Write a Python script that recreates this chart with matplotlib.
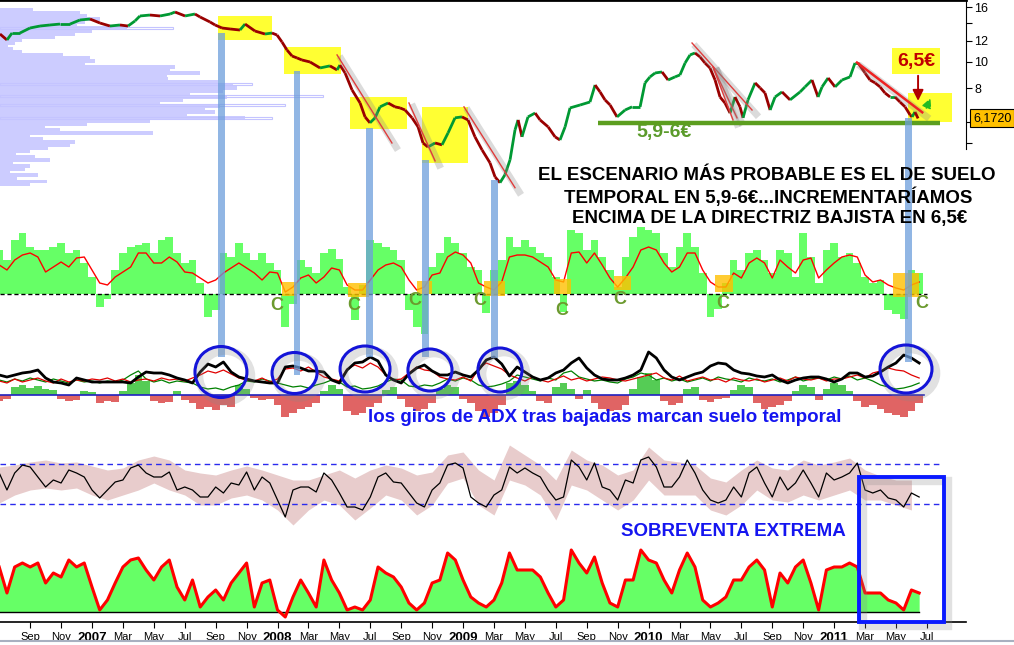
import matplotlib

matplotlib.use("Agg")

import matplotlib.pyplot as plt
import matplotlib.patheffects as pe
import numpy as np
from matplotlib.collections import LineCollection
from matplotlib.lines import Line2D
from matplotlib.patches import Ellipse, Rectangle
from matplotlib.ticker import FixedFormatter, FixedLocator, NullLocator

plt.rcParams["font.family"] = ["Liberation Sans", "DejaVu Sans"]

FIG_W, FIG_H = 1014, 645
PLOT_W = 966
# x axis is counted in months from January 2007
X_LEFT, X_RIGHT = -5.95, 56.53

# ---------------------------------------------------------------- price
PRICE_MONTHS = [
    -5.95, -5.50, -5.17, -4.66, -4.01, -3.36, -2.72, -2.07, -1.42, -0.78,
    -0.13, 0.52, 1.16, 1.81, 2.33, 2.78, 3.10, 3.75, 4.40, 5.05,
    5.37, 6.02, 6.66, 6.99, 7.63, 7.96, 8.41, 8.93, 9.57, 9.90,
    10.54, 11.19, 11.64, 11.97, 12.29, 12.61, 12.94, 13.26, 13.58, 14.10,
    14.75, 15.39, 15.85, 16.04, 16.37, 16.82, 17.34, 17.66, 17.98, 18.31,
    18.63, 19.15, 19.60, 19.92, 20.25, 20.70, 21.09, 21.41, 21.73, 22.19,
    22.64, 23.03, 23.48, 23.93, 24.32, 24.77, 25.23, 25.74, 26.07, 26.39,
    26.71, 27.04, 27.36, 27.56, 27.81, 28.20, 28.66, 28.98, 29.50, 29.95,
    30.27, 30.60, 30.92, 31.57, 32.21, 32.54, 32.86, 33.18, 33.51, 33.96,
    34.48, 34.93, 35.45, 35.77, 36.09, 36.42, 36.87, 37.26, 37.71, 38.03,
    38.36, 38.68, 39.00, 39.33, 39.65, 39.97, 40.30, 40.62, 40.94, 41.27,
    41.59, 41.91, 42.11, 42.43, 42.89, 43.21, 43.53, 43.86, 44.18, 44.63,
    45.15, 45.80, 46.12, 46.57, 46.96, 47.22, 47.61, 48.06, 48.51, 49.03,
    49.35, 49.55, 50.00, 50.32, 50.65, 50.97, 51.29, 51.62, 51.94, 52.26,
    52.59, 52.91, 53.04, 53.23, 53.43,
]
PRICE = [
    12.70, 12.07, 12.81, 12.81, 13.37, 13.60, 13.72, 13.83, 13.83, 14.32,
    14.44, 13.95, 13.60, 13.72, 13.60, 14.20, 14.82, 14.94, 14.82, 15.07,
    15.33, 14.82, 15.07, 14.69, 14.08, 13.72, 13.37, 13.26, 13.14, 13.83,
    13.03, 12.70, 12.81, 12.59, 11.86, 11.08, 10.52, 10.35, 10.17, 10.00,
    9.50, 9.67, 9.34, 9.74, 9.10, 7.87, 7.04, 6.25, 5.94, 6.20,
    6.81, 7.04, 6.81, 6.75, 6.63, 6.20, 5.74, 5.00, 4.83, 5.00,
    4.92, 5.45, 6.20, 6.25, 6.09, 5.27, 4.71, 4.22, 3.74, 3.56,
    3.81, 4.33, 5.59, 6.09, 5.27, 6.25, 6.46, 6.09, 5.74, 5.27,
    5.13, 5.74, 6.75, 6.92, 7.10, 8.21, 7.74, 7.23, 6.92, 6.25,
    6.63, 6.81, 6.81, 8.36, 8.80, 9.10, 9.18, 8.57, 8.80, 8.95,
    9.91, 10.62, 10.80, 10.44, 9.91, 9.50, 8.57, 7.41, 7.04, 6.46,
    7.41, 6.81, 6.20, 7.23, 8.36, 8.01, 7.67, 6.63, 7.41, 7.74,
    7.23, 7.74, 8.08, 8.57, 7.41, 8.08, 8.72, 8.08, 8.57, 8.80,
    9.91, 9.91, 9.10, 8.57, 8.36, 8.08, 7.67, 7.41, 7.41, 7.10,
    6.81, 6.36, 6.25, 6.52, 6.17,
]
LAST_PRICE = 6.172
SUPPORT = 5.95

# volume-by-price profile (left side of the price panel)
PROFILE_TOP, PROFILE_BOTTOM = 15.6, 3.52
PROFILE_VOL = [
    33, 80, 87, 100, 85, 77, 127, 92, 75, 55,
    22, 15, 8, 13, 22, 63, 90, 95, 85, 175,
    170, 200, 167, 168, 218, 233, 237, 223, 190, 227,
    183, 160, 220, 205, 215, 187, 245, 150, 87, 45,
    60, 153, 30, 43, 75, 70, 48, 30, 16, 35,
    50, 13, 30, 25, 10, 38, 17, 47, 30,
]
PROFILE_EXTRA_PRICE = [13.37, 8.28, 7.48, 6.92, 6.20]
PROFILE_EXTRA_VOL = [173, 252, 323, 285, 272]

# ----------------------------------------------------------- indicators
IND_MONTHS = np.arange(-6.0, 53.51, 0.5)

MOMENTUM = [
    44, 34, 54, 61, 47, 44, 44, 47, 51, 41,
    44, 31, 17, -13, -5, 24, 41, 47, 49, 51,
    41, 54, 57, 41, 31, 34, 11, -23, -16, 41,
    37, 51, 41, 34, 41, 31, 24, -33, -10, 34,
    27, 21, 41, 45, 35, 7, -26, 9, 54, 51,
    47, 44, 34, -16, -33, -40, 27, 41, 57, 51,
    41, 27, 24, -19, 24, 34, 57, 47, 54, 47,
    41, 37, 17, -18, 64, 61, 44, 54, 37, 24,
    7, 37, 57, 67, 64, 61, 41, 27, 47, 61,
    47, 21, -23, -15, 11, 34, 24, 41, 44, 34,
    21, 44, 41, 17, 61, 37, 11, 44, 51, 37,
    41, 31, 17, 11, 14, -16, -20, -25, 24, 21,
]
MOMENTUM_SIGNAL = [
    29, 24, 34, 39, 41, 37, 22, 27, 32, 27,
    36, 37, 24, 11, 9, 17, 22, 27, 41, 41,
    31, 31, 37, 32, 22, 21, 16, 11, 14, 21,
    26, 31, 26, 21, 14, 22, 21, 2, 7, 16,
    19, 11, 17, 26, 24, 9, 4, 4, 14, 24,
    29, 31, 27, 14, 4, 7, 19, 21, 37, 42,
    39, 31, 11, 7, 4, 12, 37, 39, 39, 37,
    32, 27, 14, 12, 41, 42, 31, 41, 29, 16,
    7, 16, 27, 44, 47, 44, 31, 22, 27, 41,
    41, 24, 12, 7, 7, 21, 16, 31, 36, 31,
    16, 34, 27, 21, 34, 36, 16, 24, 31, 37,
    39, 37, 19, 12, 14, 9, 6, 4, 9, 12,
]

ADX = [
    20, 18, 20, 22, 23, 25, 17, 13, 12, 10,
    17, 15, 13, 13, 13, 13, 13, 12, 18, 23,
    22, 22, 20, 17, 15, 12, 23, 31, 28, 33,
    23, 18, 16, 14, 13, 12, 12, 28, 29, 27,
    24, 24, 23, 15, 12, 25, 32, 33, 38, 34,
    20, 15, 12, 21, 27, 30, 24, 20, 20, 23,
    20, 18, 25, 35, 38, 31, 19, 28, 23, 18,
    15, 17, 22, 25, 32, 37, 27, 20, 16, 15,
    15, 17, 20, 25, 43, 37, 25, 18, 15, 18,
    21, 23, 29, 32, 31, 25, 22, 21, 19, 18,
    20, 15, 12, 15, 17, 18, 18, 16, 13, 16,
    22, 22, 18, 19, 23, 28, 32, 40, 37, 32,
]
DI_PLUS = [
    14, 12, 16, 13, 15, 17, 14, 12, 16, 13,
    15, 14, 16, 15, 17, 14, 16, 13, 15, 16,
    14, 17, 15, 16, 14, 17, 20, 24, 22, 25,
    21, 17, 15, 14, 17, 13, 16, 26, 27, 24,
    28, 23, 18, 16, 14, 26, 30, 27, 32, 28,
    20, 15, 16, 22, 28, 25, 24, 18, 16, 15,
    18, 14, 26, 32, 29, 26, 20, 17, 14, 18,
    15, 13, 16, 19, 15, 17, 14, 16, 18, 17,
    15, 14, 16, 18, 20, 22, 17, 15, 19, 14,
    16, 18, 15, 16, 13, 17, 15, 14, 16, 13,
    15, 17, 14, 18, 16, 15, 17, 14, 16, 16,
    18, 20, 17, 22, 24, 27, 25, 24, 20, 17,
]
DI_MINUS = [
    15, 13, 16, 14, 17, 15, 13, 16, 14, 12,
    15, 13, 14, 12, 14, 13, 15, 20, 24, 16,
    13, 15, 12, 14, 13, 12, 8, 6, 7, 5,
    8, 10, 14, 13, 16, 14, 12, 10, 8, 9,
    7, 10, 12, 15, 13, 8, 9, 6, 7, 9,
    13, 16, 15, 9, 8, 10, 9, 12, 16, 14,
    17, 15, 10, 8, 9, 11, 14, 20, 18, 16,
    14, 17, 15, 22, 24, 18, 16, 14, 15, 13,
    12, 16, 18, 22, 20, 15, 17, 14, 16, 13,
    15, 17, 14, 18, 16, 15, 13, 17, 15, 14,
    16, 13, 15, 18, 14, 16, 17, 15, 18, 16,
    19, 15, 17, 14, 10, 8, 6, 7, 9, 12,
]
ADX_HIST = [
    -6, -4, 8, 10, 7, 9, 6, 5, -4, -6,
    -5, 4, 3, -8, -6, -7, 4, 12, 20, 14,
    -6, -8, -7, 4, -5, -8, -14, -12, -15, -10,
    -12, 10, 6, -3, -5, -4, -10, -22, -18, -14,
    -12, -8, 4, 10, 6, -16, -20, -18, -12, -8,
    5, 8, -4, -12, -16, -14, -8, 6, 10, 8,
    -4, -8, -16, -22, -18, -10, 12, 14, 10, 4,
    -6, -8, 8, 12, 6, -4, 5, -8, -14, -16,
    -15, -10, 6, 18, 22, 15, -6, -10, -8, 6,
    8, -5, -7, -4, -3, 5, 10, 8, -8, -14,
    -12, -10, -6, 4, 10, 8, -5, 6, 12, 10,
    4, -6, -12, -10, -14, -18, -20, -22, -16, -8,
]

STOCH = [
    31, 14, 31, 39, 37, 27, 17, 24, 21, 34,
    31, 27, 14, 6, 14, 22, 24, 36, 39, 31,
    27, 27, 32, 14, 17, 14, 7, 7, 17, 11,
    21, 19, 32, 14, 27, 21, 4, -13, 14, 17,
    17, 12, 31, 24, 11, -3, -3, -6, 7, 27,
    31, 22, 21, 11, 1, -3, 14, 21, 39, 41,
    36, 7, 1, -3, 9, 14, 37, 31, 36, 31,
    27, 14, 4, 7, 44, 37, 24, 41, 17, 14,
    4, 24, 21, 44, 47, 37, 17, 17, 27, 44,
    31, 14, 4, 1, 4, 17, 7, 31, 37, 21,
    7, 27, 14, 21, 34, 21, 7, 31, 24, 27,
    31, 41, 14, 11, 14, 6, 4, -3, 11, 7,
]
STOCH_LEVELS = [0, 40]
BAND_MONTHS = np.arange(-6.0, 53.5, 1.0)
BAND_HI = [
    37, 39, 42, 44, 41, 42, 38, 34, 36, 44,
    48, 44, 34, 31, 29, 34, 38, 34, 29, 24,
    24, 29, 34, 26, 34, 39, 36, 29, 32, 49,
    52, 34, 24, 59, 49, 39, 24, 54, 44, 39,
    29, 34, 57, 44, 42, 39, 26, 22, 34, 44,
    36, 34, 44, 39, 42, 46, 34, 28, 24, 24,
]
BAND_LO = [
    1, 9, 14, 16, 14, 16, 9, 4, 9, 14,
    21, 14, 9, -1, -1, 6, 9, 4, -6, -21,
    -6, 4, -1, -16, -4, 9, 4, -11, -1, 21,
    26, -1, -11, 24, 19, 9, -16, 19, 14, 4,
    -6, 4, 24, 9, 9, 9, -6, -11, -1, 14,
    4, 2, 9, 4, 9, 14, 4, 4, -1, -6,
]

OSC = [
    45, 19, 45, 49, 45, 49, 29, 39, 35, 52,
    45, 49, 25, 2, 12, 29, 45, 52, 54, 42,
    32, 45, 52, 25, 12, 32, 5, 15, 22, 12,
    29, 39, 49, 5, 29, 32, 2, -5, 15, 32,
    19, 5, 52, 32, 19, 2, 5, 2, 12, 45,
    39, 35, 25, 9, 2, 9, 29, 32, 59, 52,
    32, 15, 9, 5, 12, 29, 59, 42, 42, 42,
    35, 19, 5, 12, 62, 49, 39, 55, 29, 9,
    5, 32, 32, 62, 52, 49, 32, 19, 42, 59,
    45, 12, 5, 9, 15, 32, 32, 45, 52, 42,
    5, 39, 29, 45, 52, 29, 2, 42, 45, 45,
    49, 45, 19, 19, 19, 12, 9, 2, 22, 19,
]

# ---------------------------------------------------------- annotations
# consolidation zones on price: (month start, month end, price low, price high)
ZONES = [(8.15, 11.64, 12.07, 14.82), (12.42, 16.11, 9.02, 11.36),
         (16.69, 20.38, 5.64, 7.41), (21.35, 24.32, 4.22, 6.81),
         (52.80, 55.60, 5.99, 7.67)]
# downtrend lines: (m0, p0, m1, p1)
TRENDS = [(15.85, 10.62, 19.40, 5.00), (20.50, 7.04, 22.19, 4.29),
          (24.06, 6.81, 27.36, 3.41), (38.81, 11.76, 42.69, 6.63),
          (40.17, 9.58, 41.72, 6.20), (40.17, 9.58, 41.46, 6.09)]
MAIN_TREND = (49.48, 9.95, 53.70, 6.50)
# momentum "C" marks and the orange boxes around them
C_MONTHS = [11.97, 16.95, 20.89, 25.10, 30.40, 34.15, 40.82, 53.69]
C_LEVEL = [-11, -11, -6, -6, -16, -5, -9, -9]
C_BOXES = [(12.29, 13.26, -2, 12), (16.56, 17.92, -3, 11), (21.02, 21.99, 0, 13),
           (25.36, 26.71, -2, 13), (29.88, 30.98, 0, 15), (33.76, 34.86, 4, 18),
           (40.30, 41.46, 2, 19), (51.81, 53.49, -3, 21)]
# bottoms marked with blue bars (month, top px, bottom px) and ADX circles
BOTTOM_MONTHS = [8.38, 13.26, 17.92, 21.60, 26.04, 52.81]
BAR_TOP = [33, 71, 128, 160, 180, 118]
BAR_BOTTOM = [357, 375, 357, 357, 358, 362]
CIRCLE_MONTHS = [8.34, 13.10, 17.66, 21.86, 26.39, 52.65]
CIRCLE_W = [3.36, 2.91, 3.23, 2.85, 2.85, 3.36]


def rect(top, bottom, width=PLOT_W):
    return [0, 1 - bottom / FIG_H, width / FIG_W, (bottom - top) / FIG_H]


def hide(ax):
    for s in ax.spines.values():
        s.set_visible(False)
    ax.xaxis.set_major_locator(NullLocator())
    ax.xaxis.set_minor_locator(NullLocator())
    ax.yaxis.set_major_locator(NullLocator())
    ax.yaxis.set_minor_locator(NullLocator())
    ax.patch.set_visible(False)


shadow = [pe.SimpleLineShadow(offset=(3, -3), shadow_color="#888888", alpha=0.3, linewidth=5), pe.Normal()]
stroke_shadow = [pe.Stroke(offset=(3, -3), linewidth=6, foreground="#888888", alpha=0.25), pe.Normal()]

fig = plt.figure(figsize=(FIG_W / 100, FIG_H / 100), dpi=100)

# --- volume profile
ylim_price = (3.07, 16.99)
ax_prof = fig.add_axes(rect(0, 200))
ax_prof.set_yscale("log")
ax_prof.set_ylim(*ylim_price)
ax_prof.set_xlim(0, PLOT_W)
prof_prices = np.geomspace(PROFILE_TOP, PROFILE_BOTTOM, len(PROFILE_VOL))
ax_prof.barh(prof_prices, PROFILE_VOL, height=prof_prices * 0.026, color="#ccccff", lw=0,
             antialiased=False)
ax_prof.barh(PROFILE_EXTRA_PRICE, PROFILE_EXTRA_VOL, height=np.array(PROFILE_EXTRA_PRICE) * 0.014,
             facecolor="none", edgecolor="#c4c4ff", lw=0.8)
hide(ax_prof)

# --- price panel
ax = fig.add_axes(rect(0, 200))
ax.patch.set_visible(False)
ax.set_yscale("log")
ax.set_xlim(X_LEFT, X_RIGHT)
ax.set_ylim(*ylim_price)
for m0, m1, lo, hi in ZONES:
    ax.add_patch(Rectangle((m0, lo), m1 - m0, hi - lo, color="#ffff33", lw=0, zorder=0.5))

pts = np.column_stack([PRICE_MONTHS, PRICE])
segs = np.stack([pts[:-1], pts[1:]], axis=1)
cols = ["#009933" if b >= a else "#990000" for a, b in zip(PRICE[:-1], PRICE[1:])]
ax.add_collection(LineCollection(segs, colors=cols, linewidths=2.0, zorder=3))

for m0, p0, m1, p1 in TRENDS:
    ax.plot([m0, m1], [p0, p1], color="#e03c3c", lw=1.0, zorder=4, path_effects=shadow)
m0, p0, m1, p1 = MAIN_TREND
ax.plot([m0, m1], [p0, p1], color="#ee2222", lw=1.8, zorder=4, path_effects=shadow)
ax.plot([32.73, 54.85], [SUPPORT, SUPPORT], color="#5c9e1f", lw=3.2, solid_capstyle="butt", zorder=4)
ax.text(37.0, 5.45, "5,9-6€", color="#5b9b2b", fontsize=14, fontweight="bold", ha="center", va="center")
ax.text(53.3, 10.08, "6,5€", color="#c00000", fontsize=14, fontweight="bold", ha="center", va="center",
        bbox=dict(boxstyle="square,pad=0.25", fc="#ffff33", ec="none"))
ax.annotate("", xy=(53.43, 7.0), xytext=(53.43, 9.1),
            arrowprops=dict(arrowstyle="-|>", color="#b00000", lw=1.4, mutation_scale=16))
ax.annotate("", xy=(54.3, 7.5), xytext=(53.9, 6.6),
            arrowprops=dict(arrowstyle="-|>", color="#22bb22", lw=1.2, ls="--", mutation_scale=14))

for s in ["left", "bottom"]:
    ax.spines[s].set_visible(False)
ax.spines["top"].set_linewidth(2)
ax.spines["right"].set_bounds(4.75, ylim_price[1])
ax.yaxis.tick_right()
ax.yaxis.set_major_locator(FixedLocator([5, 6, 8, 10, 12, 14, 16]))
ax.yaxis.set_major_formatter(FixedFormatter(["", "", "8", "10", "12", "", "16"]))
ax.yaxis.set_minor_locator(NullLocator())
ax.tick_params(axis="y", direction="out", length=4, labelsize=9, pad=2)
ax.xaxis.set_major_locator(NullLocator())
ax.xaxis.set_minor_locator(NullLocator())
ax.annotate("6,1720", xy=(1, LAST_PRICE), xycoords=("axes fraction", "data"), xytext=(5, 0),
            textcoords="offset points", va="center", fontsize=9,
            bbox=dict(boxstyle="square,pad=0.25", fc="#ffc000", ec="black", lw=0.8), annotation_clip=False)

# --- momentum panel
ax2 = fig.add_axes(rect(215, 340))
ax2.set_xlim(X_LEFT, X_RIGHT)
ax2.set_ylim(-46, 79)
ax2.bar(IND_MONTHS, MOMENTUM, width=0.5, color="#66ff66", lw=0)
ax2.plot(IND_MONTHS, MOMENTUM_SIGNAL, color="#ff0000", lw=1.0)
ax2.plot([X_LEFT, 54.0], [0, 0], color="black", lw=1.0, ls=(0, (3, 2)))
for m0, m1, lo, hi in C_BOXES:
    ax2.add_patch(Rectangle((m0, lo), m1 - m0, hi - lo, color="#ffc000", alpha=0.8, lw=0, zorder=3))
for m, v in zip(C_MONTHS, C_LEVEL):
    ax2.text(m, v, "C", color="#6b9a2e", fontsize=13, fontweight="bold", ha="center", va="center")
hide(ax2)

# --- ADX panel
ax3 = fig.add_axes(rect(340, 425))
ax3.set_xlim(X_LEFT, X_RIGHT)
ax3.set_ylim(-30, 55)
hist_cols = ["#55cc55" if v >= 0 else "#e06464" for v in ADX_HIST]
ax3.bar(IND_MONTHS, ADX_HIST, width=0.5, color=hist_cols, lw=0)
ax3.plot([X_LEFT, 53.8], [0, 0], color="#2020c0", lw=1.2)
ax3.plot(IND_MONTHS, DI_MINUS, color="#008000", lw=0.9)
ax3.plot(IND_MONTHS, DI_PLUS, color="#e00000", lw=0.9)
ax3.plot(IND_MONTHS, ADX, color="black", lw=2.0)
hide(ax3)

# --- stochastic panel
ax4 = fig.add_axes(rect(440, 535))
ax4.set_xlim(X_LEFT, X_RIGHT)
ax4.set_ylim(-31, 64)
ax4.fill_between(BAND_MONTHS, BAND_LO, BAND_HI, color="#e8cccc", lw=0)
for lvl in STOCH_LEVELS:
    ax4.plot([X_LEFT, 54.9], [lvl, lvl], color="#2a2aee", lw=1.0, ls=(0, (4, 3)))
ax4.plot(IND_MONTHS, STOCH, color="black", lw=0.9)
hide(ax4)

# --- oscillator panel with the date axis
ax5 = fig.add_axes(rect(540, 622))
ax5.set_xlim(X_LEFT, X_RIGHT)
ax5.set_ylim(-10, 72)
ax5.fill_between(IND_MONTHS, 0, OSC, color="#66ff66", lw=0)
ax5.plot([X_LEFT, 53.5], [0, 0], color="black", lw=1.0)
ax5.plot(IND_MONTHS, OSC, color="#ff0000", lw=2.2)
ax5.patch.set_visible(False)
for s in ["left", "right", "top"]:
    ax5.spines[s].set_visible(False)
ax5.spines["bottom"].set_linewidth(1.2)
ax5.set_yticks([])
MONTH_NAMES = ["Jan", "Feb", "Mar", "Apr", "May", "Jun", "Jul", "Aug", "Sep", "Oct", "Nov", "Dec"]
tick_months = list(range(-4, 55, 2))
tick_labels = [str(2007 + m // 12) if m % 12 == 0 else MONTH_NAMES[m % 12] for m in tick_months]
ax5.set_xticks(tick_months)
ax5.set_xticklabels(tick_labels)
ax5.tick_params(axis="x", direction="out", length=4, labelsize=8, pad=3)
for lab, m in zip(ax5.get_xticklabels(), tick_months):
    if m % 12 == 0:
        lab.set_fontweight("bold")
        lab.set_fontsize(9.5)

# --- overlay: blue bars, circles, oversold box (x in months, y in pixels)
ov = fig.add_axes([0, 0, PLOT_W / FIG_W, 1])
ov.set_xlim(X_LEFT, X_RIGHT)
ov.set_ylim(FIG_H, 0)
hide(ov)
for m, y0, y1 in zip(BOTTOM_MONTHS, BAR_TOP, BAR_BOTTOM):
    ov.add_patch(Rectangle((m - 0.225, y0), 0.45, y1 - y0, color="#6d9edb", alpha=0.75, lw=0))
circle_y = [372, 373, 369, 370, 370, 369]
circle_h = [51, 41, 46, 42, 44, 48]
for m, w, cy, h in zip(CIRCLE_MONTHS, CIRCLE_W, circle_y, circle_h):
    ov.add_patch(Ellipse((m, cy), w, h, fill=False, ec="#1414d8", lw=2.2, path_effects=stroke_shadow))
ov.add_patch(Rectangle((49.61, 477), 5.5, 145, fill=False, ec="#0a1aff", lw=2.8, path_effects=stroke_shadow))


# --- texts
def ftext(x, y, s, **kw):
    fig.text(x / FIG_W, 1 - y / FIG_H, s, ha="center", va="center", fontweight="bold", **kw)


ftext(767, 176, "EL ESCENARIO MÁS PROBABLE ES EL DE SUELO", fontsize=13.5, color="black")
ftext(768, 197, "TEMPORAL EN 5,9-6€...INCREMENTARÍAMOS", fontsize=13.5, color="black")
ftext(770, 219, "ENCIMA DE LA DIRECTRIZ BAJISTA EN 6,5€", fontsize=13.5, color="black")
ftext(605, 417, "los giros de ADX tras bajadas marcan suelo temporal", fontsize=13.5, color="#1515f0")
ftext(733, 532, "SOBREVENTA EXTREMA", fontsize=13.5, color="#1515f0")

fig.add_artist(Line2D([0, 1], [1 - 641 / FIG_H] * 2, color="#a8b0c0", lw=1.5))

fig.savefig("out.png", dpi=100)
